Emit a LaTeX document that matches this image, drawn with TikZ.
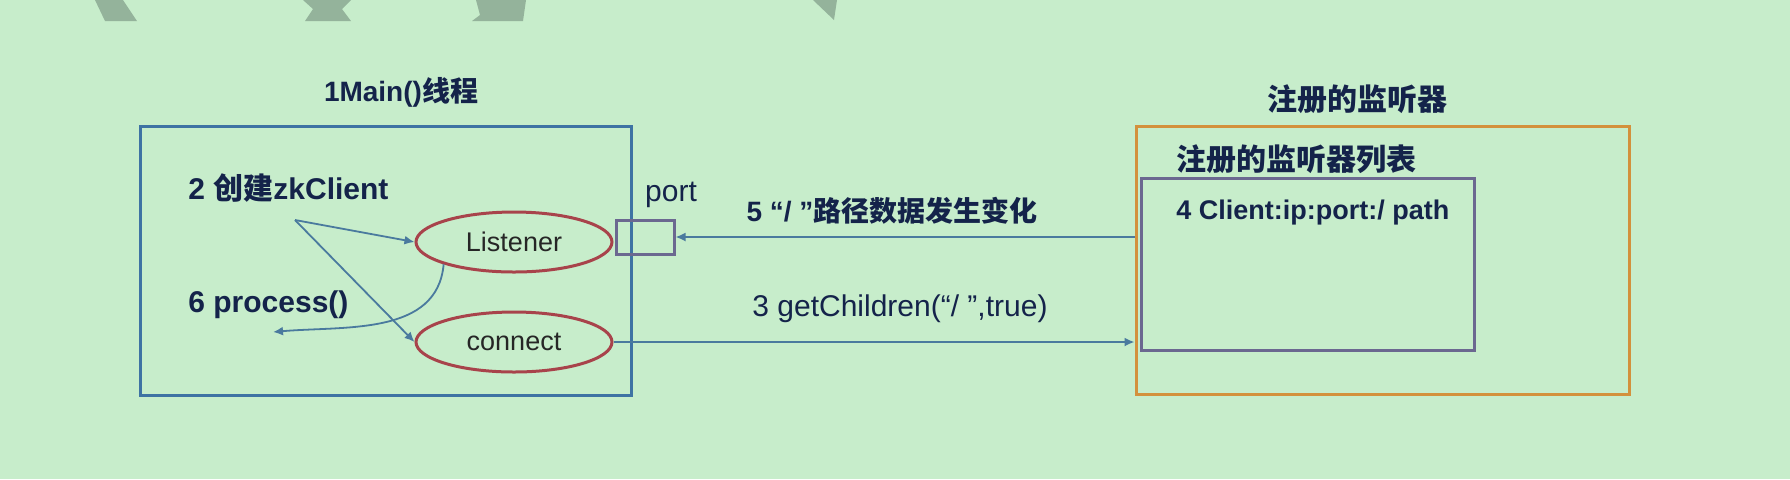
\documentclass[tikz,border=0pt]{standalone}
\usepackage{fontspec}
\usepackage{xcolor}
\usetikzlibrary{shapes.geometric,arrows.meta}
\setmainfont{Liberation Sans}
\newfontfamily\cjk{Noto Sans CJK SC}

\definecolor{bggreen}{HTML}{C7EDCB}
\definecolor{shapegrey}{HTML}{94B39B}
\definecolor{boxblue}{HTML}{3E73A3}
\definecolor{ovalred}{HTML}{A8434B}
\definecolor{portpurple}{HTML}{6B6890}
\definecolor{regorange}{HTML}{D3913C}
\definecolor{arrowblue}{HTML}{4A7A9E}
\definecolor{textnavy}{HTML}{14234A}

\begin{document}
\begin{tikzpicture}[x=0.5pt, y=-0.5pt,
		flow/.style={draw=arrowblue, line width=0.9pt, -{Latex[length=5pt,width=4.5pt]}},
		oval/.style={ellipse, draw=ovalred, line width=1.5pt, minimum width=98pt, minimum height=30pt, inner sep=0pt, font=\fontsize{13.5}{16}\selectfont, text=black!85},
		heading/.style={font=\fontsize{14}{17}\selectfont\bfseries, text=textnavy},
		step label/.style={font=\fontsize{15}{18}\selectfont\bfseries, text=textnavy, anchor=west, inner sep=0pt}]
		\useasboundingbox (0,0) rectangle (1790,479);
		\fill [bggreen] (0,0) rectangle (1790,479);
		
		% cut-off shapes at the top edge
		\fill [shapegrey] (95,0) -- (123,0) -- (137,21) -- (105,21) -- cycle;
		\fill [shapegrey] (303,0) -- (351,0) -- (342,9) -- (351,21) -- (305,21) -- (313,9) -- cycle;
		\fill [shapegrey] (476,0) -- (526,0) -- (523,21) -- (472,21) -- (480,15) -- cycle;
		\fill [shapegrey] (813,0) -- (837,0) -- (834,20) -- cycle;
		
		% main thread
		\node [draw=boxblue, line width=1.5pt, minimum width=245.5pt, minimum height=134.5pt] (mainthread) at (385.5,260.5) {};
		\node [heading] (maintitle) at (401,92) {1Main()\cjk 线程};
		\node [step label] (create) at (188,188) {2 {\cjk 创建}zkClient};
		\node [step label] (process) at (188,305) {6 process()};
		\coordinate (fork) at (295,220);
		\coordinate (ret) at (273,332);
		
		\node [oval] (listener) at (514,242) {Listener};
		\node [oval] (connect) at (514,342) {connect};
		
		\node [draw=portpurple, line width=1.5pt, minimum width=29pt, minimum height=17pt, inner sep=0pt] (port) at (645,237) {};
		\node [font=\fontsize{15}{18}\selectfont, text=textnavy] (portlabel) at (671,195) {port};
		
		% registered listeners
		\node [draw=regorange, line width=1.5pt, minimum width=246.5pt, minimum height=134pt] (registry) at (1382.5,260.5) {};
		\node [heading, font=\fontsize{15}{18}\selectfont\bfseries] (regtitle) at (1357,99) {\cjk 注册的监听器};
		\node [step label] (listtitle) at (1176,159) {\cjk 注册的监听器列表};
		\node [draw=portpurple, line width=1.5pt, minimum width=166.5pt, minimum height=86pt] (listbox) at (1307.5,264) {};
		\node [step label, font=\fontsize{13.5}{16}\selectfont\bfseries] (client) at (1176,213) {4 Client:ip:port:/ path};
		
		\draw [flow] (fork) -- (listener.west);
		\draw [flow] (fork) -- (connect.west);
		\draw [flow] (listener.south west) to [out=-95, in=5] (ret);
		
		\draw [flow] (port.east -| registry.west) -- (port.east);
		\node [heading] (changed) at (892,211) {5 “/ ”{\cjk 路径数据发生变化}};
		
		\draw [flow] (connect.east) -- (connect.east -| registry.west);
		\node [font=\fontsize{15}{18}\selectfont, text=textnavy] (children) at (900,309) {3 getChildren(“/ ”,true)};
\end{tikzpicture}
\end{document}
